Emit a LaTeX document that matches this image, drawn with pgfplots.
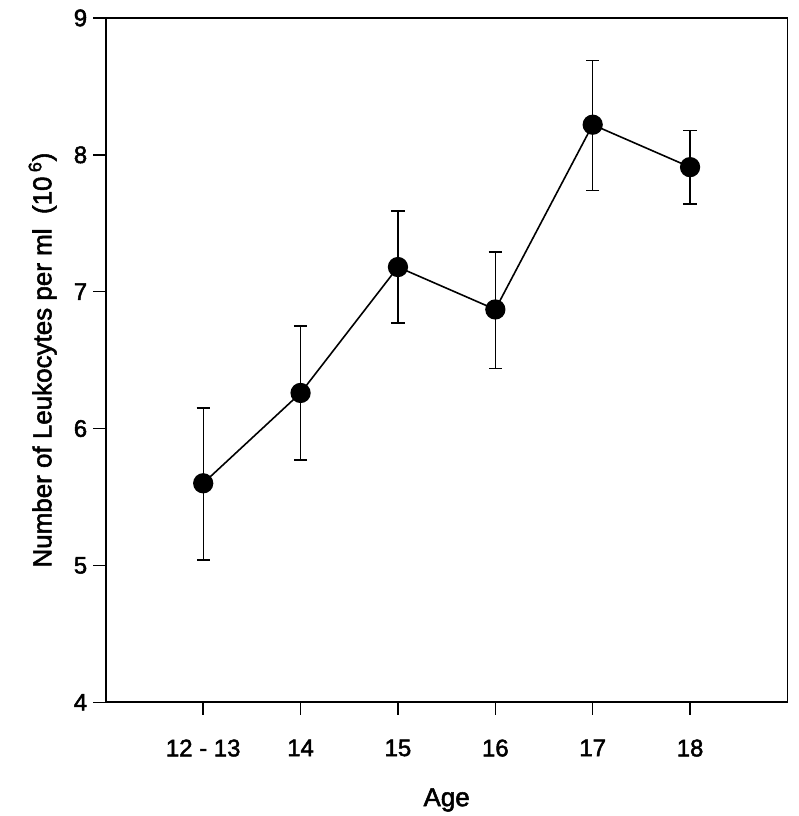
\documentclass[border=0pt]{standalone}
\usepackage{pgfplots}
\pgfplotsset{compat=1.18}
\usepackage{pgfplotstable}
\usepackage{fontspec}
\setmainfont{Liberation Sans}
\newfontfamily\heavy[FakeBold=2]{Liberation Sans}
\pgfplotstableread{
x y ep em
0 5.60 0.55 0.56
1 6.26 0.49 0.49
2 7.18 0.41 0.41
3 6.87 0.42 0.43
4 8.22 0.47 0.48
5 7.91 0.27 0.27
}\datatable
\begin{document}
\begin{tikzpicture}
\begin{axis}[
  scale only axis,
  width=512pt, height=514pt,
  xmin=-1, xmax=6, ymin=4, ymax=9,
  xtick={0,1,2,3,4,5},
  xticklabels={12 - 13,14,15,16,17,18},
  ytick={4,5,6,7,8,9},
  yticklabels={4,5,6,7,8,9},
  tick pos=left,
  tick align=outside,
  major tick length=9.5pt,
  axis line style={line width=1.2pt},
  every tick/.style={black, line width=1.1pt},
  xticklabel style={font=\heavy\fontsize{18}{22}\selectfont, yshift=-15pt},
  yticklabel style={font=\heavy\fontsize{18}{22}\selectfont, xshift=-1pt},
  xlabel={Age},
  ylabel={Number of Leukocytes per ml\ \ (10\,\textsuperscript{6})},
  label style={font=\heavy\fontsize{19.5}{23}\selectfont},
  xlabel style={yshift=-17pt},
  ylabel style={yshift=6pt},
]
\addplot[black, line width=1.2pt, mark=*, mark size=7pt,
  error bars/.cd, y dir=both, y explicit,
  error bar style={line width=1pt},
  error mark options={rotate=90, mark size=5pt, line width=1pt}]
  table[x=x, y=y, y error plus=ep, y error minus=em] {\datatable};
\end{axis}
\useasboundingbox ([shift={(-79.5pt,-84.75pt)}]current axis.south west) rectangle ([shift={(8.25pt,13.5pt)}]current axis.north east);
\end{tikzpicture}
\end{document}
